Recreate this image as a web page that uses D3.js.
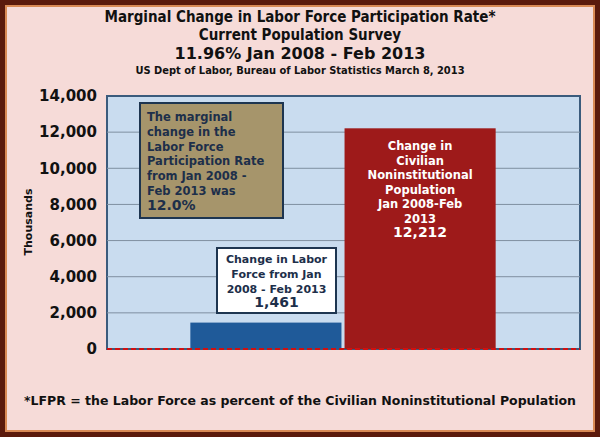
<!DOCTYPE html>
<html><head><meta charset="utf-8">
<script src="https://cdn.jsdelivr.net/npm/d3@7"></script>
<style>body{margin:0;background:#fff}svg{display:block;font-family:"DejaVu Sans",Verdana,sans-serif;font-weight:bold}</style>
</head><body><svg id="c" width="600" height="437"></svg>
<script>
const categories = ["Labor Force", "Civilian Noninstitutional Population"];
const values = [1461, 12212];
const barColors = ["#1f5a99", "#9e1a1a"];
const yTicks = [0, 2000, 4000, 6000, 8000, 10000, 12000, 14000];
const titleLines = ["Marginal Change in Labor Force Participation Rate*", "Current Population Survey", "11.96% Jan 2008 - Feb 2013", "US Dept of Labor, Bureau of Labor Statistics March 8, 2013"];

const svg = d3.select("#c");
svg.append("rect").attr("width", 600).attr("height", 437).attr("fill", "#5b1a0c");
svg.append("rect").attr("x", 5).attr("y", 5).attr("width", 590).attr("height", 427).attr("fill", "#d98a55");
svg.append("rect").attr("x", 7).attr("y", 7).attr("width", 586).attr("height", 423).attr("fill", "#f6dbd8");

const tsz = [15, 15, 16, 11], tys = [22, 40, 59, 74];
titleLines.forEach((t, i) => svg.append("text").attr("x", 300).attr("y", tys[i])
  .attr("text-anchor", "middle").attr("font-size", tsz[i]).attr("fill", "#111")
  .attr("font-family", i == 2 ? "DejaVu Sans" : "Liberation Sans Narrow, DejaVu Sans Condensed").text(t));

const pLeft = 107, pRight = 580, pTop = 96, pBottom = 349;
const y = d3.scaleLinear().domain([0, 14000]).range([pBottom, pTop]);
const x = d3.scaleBand().domain(categories).range([pLeft + 34, pRight - 35]).paddingInner(0.02).paddingOuter(0.32);

svg.append("rect").attr("x", pLeft).attr("y", pTop).attr("width", pRight - pLeft).attr("height", pBottom - pTop)
  .attr("fill", "#c9dcef").attr("stroke", "#3b5b7c").attr("stroke-width", 2);
svg.append("g").selectAll("line").data(yTicks.slice(1, -1)).join("line")
  .attr("x1", pLeft).attr("x2", pRight).attr("y1", d => y(d)).attr("y2", d => y(d)).attr("stroke", "#7f8fa0");

const ax = svg.append("g").attr("transform", `translate(${pLeft - 2},0)`)
  .call(d3.axisLeft(y).tickValues(yTicks).tickSize(0).tickPadding(8).tickFormat(d3.format(",")));
ax.select(".domain").remove();
ax.selectAll("text").attr("font-size", 15).attr("font-family", "DejaVu Sans").attr("font-weight", "bold").attr("fill", "#111");
svg.append("text").attr("transform", "translate(32,222) rotate(-90)").attr("text-anchor", "middle")
  .attr("font-size", 11).attr("fill", "#111").text("Thousands");

svg.append("g").selectAll("rect").data(values).join("rect")
  .attr("x", (d, i) => x(categories[i])).attr("width", x.bandwidth())
  .attr("y", d => y(d)).attr("height", d => pBottom - y(d)).attr("fill", (d, i) => barColors[i]);

svg.append("line").attr("x1", pLeft).attr("x2", pRight).attr("y1", pBottom).attr("y2", pBottom)
  .attr("stroke", "#d01010").attr("stroke-width", 2).attr("stroke-dasharray", "5,3");

// olive annotation box
svg.append("rect").attr("x", 140).attr("y", 103).attr("width", 143).attr("height", 115)
  .attr("fill", "#a6956b").attr("stroke", "#1d3550").attr("stroke-width", 2);
const ol = ["The marginal", "change in the", "Labor Force", "Participation Rate", "from Jan 2008 -", "Feb 2013 was", "12.0%"];
ol.forEach((t, i) => svg.append("text").attr("x", 147).attr("y", 121 + i * 14.8)
  .attr("font-size", i === 6 ? 14 : 11.5).attr("fill", "#1d2f4a").text(t));

// blue bar label
svg.append("rect").attr("x", 217).attr("y", 248).attr("width", 119).attr("height", 65)
  .attr("fill", "#fff").attr("stroke", "#1d3550").attr("stroke-width", 2);
const bl = ["Change in Labor", "Force from Jan", "2008 - Feb 2013", d3.format(",")(values[0])];
bl.forEach((t, i) => svg.append("text").attr("x", 276.5).attr("y", 263 + i * 14.8).attr("text-anchor", "middle")
  .attr("font-size", i === 3 ? 14 : 11).attr("fill", "#1d2f4a").text(t));

// red bar label
const cx = x(categories[1]) + x.bandwidth() / 2;
const rl = ["Change in", "Civilian", "Noninstitutional", "Population", "Jan 2008-Feb", "2013", d3.format(",")(values[1])];
rl.forEach((t, i) => svg.append("text").attr("x", cx).attr("y", 150 + i * 14.5).attr("text-anchor", "middle")
  .attr("font-size", i === 6 ? 14 : 11.5).attr("fill", "#fff").text(t));

svg.append("text").attr("x", 300).attr("y", 405).attr("text-anchor", "middle").attr("font-size", 12.5)
  .attr("fill", "#111").text("*LFPR = the Labor Force as percent of the Civilian Noninstitutional Population");
</script></body></html>
